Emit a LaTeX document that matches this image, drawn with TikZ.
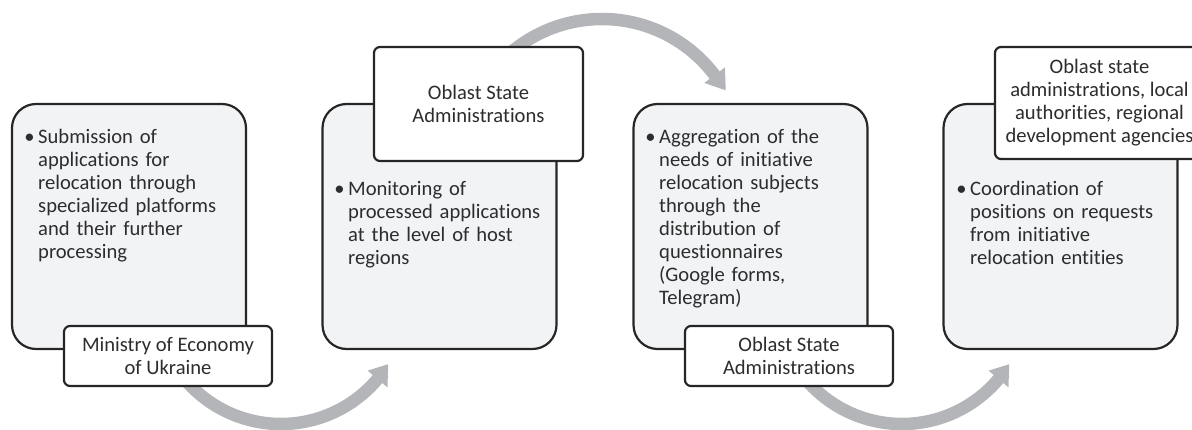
\documentclass[tikz,border=0pt]{standalone}
\usepackage{fontspec}
\setmainfont{Carlito}[Ligatures={NoCommon}]
\definecolor{boxfill}{RGB}{242,243,245}
\definecolor{edge}{RGB}{38,38,38}
\definecolor{arrowgray}{RGB}{180,181,184}
\definecolor{txt}{RGB}{45,45,45}
\tikzset{
  bigbox/.style={draw=edge, line width=2.2pt, fill=boxfill, rounded corners=24pt, minimum width=234pt, minimum height=245pt, inner sep=0pt},
  lblbox/.style={draw=edge, line width=2.2pt, fill=white, rounded corners=6pt, inner sep=0pt, align=center, text=txt, font=\fontsize{20.6}{23}\selectfont},
  bodytext/.style={anchor=base west, inner sep=0pt, text width=215pt, align=left, text=txt, font=\fontsize{20.6}{23}\selectfont},
  band/.style={draw=arrowgray, line width=12.5pt},
  head/.style={fill=arrowgray}
}
\newcommand{\bul}{\llap{•\hspace{3.5pt}}}
\begin{document}
\begin{tikzpicture}[x=1pt,y=1pt]
\useasboundingbox (0,0) rectangle (1192,429);
\clip (0,0) rectangle (1192,429);
% arc centres
\coordinate (c1) at (281,131);
\coordinate (c2) at (602,269);
\coordinate (c3) at (902,131);
% arrows (behind everything)
\draw[band] ([shift={(-150:126)}]c1) arc[start angle=-150, end angle=-39.5, radius=126];
\fill[head] ([shift={(-40:113)}]c1) -- ([shift={(-31.7:126)}]c1) -- ([shift={(-40:139)}]c1) -- cycle;
\draw[band] ([shift={(140:141)}]c2) arc[start angle=140, end angle=36.5, radius=141];
\fill[head] ([shift={(37:128)}]c2) -- ([shift={(29.4:142)}]c2) -- ([shift={(37:154)}]c2) -- cycle;
\draw[band] ([shift={(-150:126)}]c3) arc[start angle=-150, end angle=-39.5, radius=126];
\fill[head] ([shift={(-40:113)}]c3) -- ([shift={(-31.7:126)}]c3) -- ([shift={(-40:139)}]c3) -- cycle;
% main boxes
\node[bigbox] (b1) at (129,202.5) {};
\node[bigbox] (b2) at (439.5,202.5) {};
\node[bigbox] (b3) at (750.5,202.5) {};
\node[bigbox] (b4) at (1060.5,202.5) {};
% body texts
\node[bodytext] (t1) at (38,285.5) {\bul Submission of\\applications for\\relocation through\\specialized platforms\\and their further\\processing};
\node[bodytext] (t2) at (348,233) {\bul Monitoring of\\processed applications\\at the level of host\\regions};
\node[bodytext] (t3) at (659,285.5) {\bul Aggregation of the\\needs of initiative\\relocation subjects\\through the\\distribution of\\questionnaires\\(Google forms,\\Telegram)};
\node[bodytext] (t4) at (970,233) {\bul Coordination of\\positions on requests\\from initiative\\relocation entities};
% labels
\node[lblbox, minimum width=208pt, minimum height=60pt] (l1) at (168,73) {Ministry of Economy\\of Ukraine};
\node[lblbox, minimum width=209pt, minimum height=114pt] (l2) at (478.5,325) {Oblast State\\Administrations};
\node[lblbox, minimum width=208pt, minimum height=60pt] (l3) at (789,73) {Oblast State\\Administrations};
\node[lblbox, minimum width=209pt, minimum height=112pt] (l4) at (1099.5,326) {Oblast state\\administrations, local\\authorities, regional\\development agencies};
\end{tikzpicture}
\end{document}
